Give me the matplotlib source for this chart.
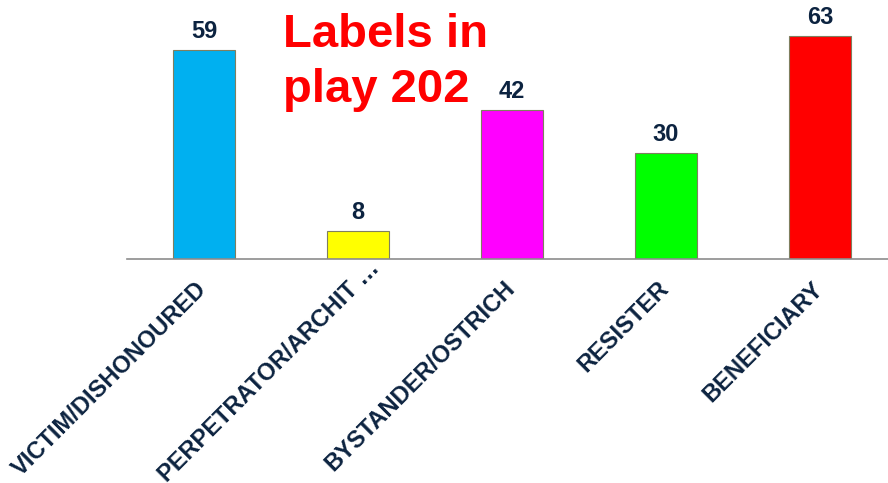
import matplotlib
matplotlib.use('Agg')
from matplotlib import pyplot as plt
from matplotlib.transforms import ScaledTranslation

plt.rcParams['font.family'] = ['Liberation Sans', 'DejaVu Sans']

categories = ['VICTIM/DISHONOURED', 'PERPETRATOR/ARCHIT …', 'BYSTANDER/OSTRICH',
              'RESISTER', 'BENEFICIARY']
counts = [59, 8, 42, 30, 63]
colors = ['#00b0f0', '#ffff00', '#ff00ff', '#00ff00', '#ff0000']
title = 'Labels in\nplay 202'

text_color = '#0c2340'

fig = plt.figure(figsize=(8.88, 4.83), dpi=100)
ax = fig.add_axes([127 / 888, 224 / 483, 770 / 888, 248 / 483])

x = range(len(categories))
bars = ax.bar(x, counts, width=0.4, color=colors, edgecolor='#7f7f5f', linewidth=0.8)

for b, v in zip(bars, counts):
    ax.text(b.get_x() + b.get_width() / 2, v + 1.9, str(v), ha='center', va='bottom',
            fontsize=17, fontweight='bold', color=text_color)

ax.set_xlim(-0.5, 4.5)
ax.set_ylim(0, 70)
ax.set_yticks([])
ax.set_xticks(list(x))
ax.set_xticklabels(categories, rotation=45, ha='right', va='top',
                   rotation_mode='anchor', fontsize=17, fontweight='bold',
                   color=text_color)
ax.tick_params(axis='x', length=0, pad=13)
for i, lab in enumerate(ax.get_xticklabels()):
    # the truncated label sits further up and right, like the original
    dx, dy = (0.1, 0.2) if i == 1 else (-0.09, 0)
    lab.set_transform(lab.get_transform() + ScaledTranslation(dx, dy, fig.dpi_scale_trans))

for s in ['top', 'right', 'left']:
    ax.spines[s].set_visible(False)
ax.spines['bottom'].set_color('#8c8c8c')
ax.spines['bottom'].set_linewidth(1.2)

fig.text(283 / 888, 1 - 13 / 483, title, ha='left', va='top', fontsize=34,
         fontweight='bold', color='#ff0000', linespacing=1.33)

fig.savefig('out.png', dpi=100)
